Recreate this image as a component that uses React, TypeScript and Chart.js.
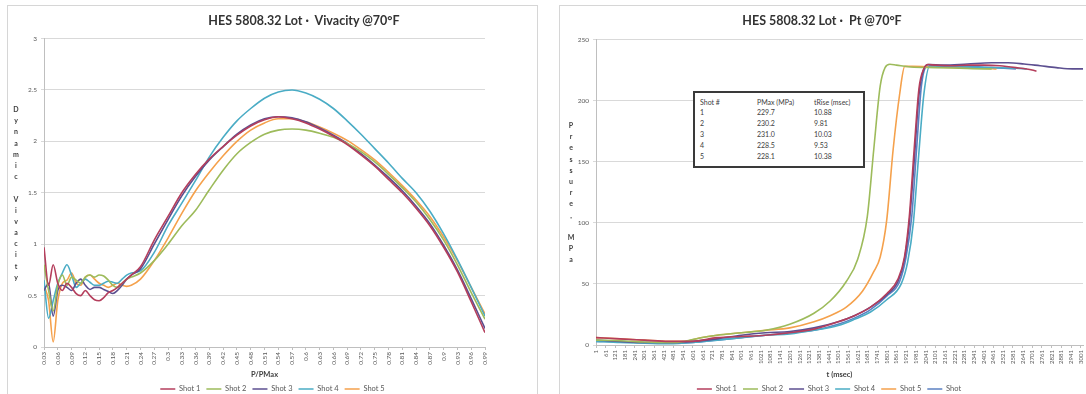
import React, { useEffect, useRef } from "react";
import { Chart, registerables } from "chart.js";

Chart.register(...registerables);
Chart.defaults.font.family = "Lato, 'Open Sans', sans-serif";

// ---------- shared ----------
const SHOT_NAMES = ["Shot 1", "Shot 2", "Shot 3", "Shot 4", "Shot 5"];
const PT_NAMES = ["Shot 1", "Shot 2", "Shot 3", "Shot 4", "Shot 5", "Shot"];
const COLORS = ["#b43e5c", "#9dbb5b", "#5c4f90", "#4aacc5", "#f5a14c", "#5b80c2"];

// ---------- Vivacity chart data ----------
const vivTitle = "HES 5808.32 Lot \u00b7  Vivacity @70\u00b0F";
const vivX = [0.03, 0.04, 0.05, 0.06, 0.07, 0.08, 0.09, 0.10, 0.11, 0.12, 0.13, 0.14, 0.15, 0.16, 0.17, 0.18, 0.19, 0.20, 0.21, 0.22, 0.24,
  0.27, 0.30, 0.33, 0.36, 0.39, 0.42, 0.45, 0.48, 0.51, 0.54, 0.57, 0.60, 0.63, 0.66, 0.69, 0.72, 0.75, 0.78, 0.81, 0.84, 0.87, 0.90, 0.93, 0.96, 0.99];
const viv1 = [0.97, 0.60, 0.80, 0.62, 0.55, 0.62, 0.58, 0.52, 0.50, 0.55, 0.50, 0.46, 0.45, 0.48, 0.53, 0.55, 0.58, 0.62, 0.66, 0.70, 0.78,
  1.04, 1.27, 1.50, 1.68, 1.83, 1.95, 2.06, 2.15, 2.21, 2.24, 2.22, 2.18, 2.12, 2.05, 1.97, 1.87, 1.76, 1.63, 1.50, 1.35, 1.18, 0.97, 0.73, 0.44, 0.14];
const viv2 = [0.80, 0.55, 0.35, 0.60, 0.70, 0.60, 0.68, 0.65, 0.62, 0.68, 0.70, 0.68, 0.70, 0.69, 0.65, 0.60, 0.58, 0.62, 0.66, 0.68, 0.72,
  0.84, 1.00, 1.18, 1.33, 1.53, 1.72, 1.88, 1.99, 2.07, 2.11, 2.12, 2.11, 2.08, 2.04, 1.98, 1.90, 1.80, 1.68, 1.55, 1.41, 1.24, 1.04, 0.80, 0.53, 0.27];
const viv3 = [0.55, 0.62, 0.30, 0.55, 0.60, 0.58, 0.55, 0.62, 0.66, 0.60, 0.56, 0.58, 0.58, 0.56, 0.54, 0.52, 0.55, 0.60, 0.66, 0.70, 0.76,
  1.00, 1.24, 1.47, 1.66, 1.82, 1.95, 2.07, 2.16, 2.22, 2.24, 2.23, 2.19, 2.13, 2.06, 1.98, 1.88, 1.77, 1.65, 1.52, 1.37, 1.20, 0.99, 0.75, 0.47, 0.18];
const viv4 = [0.65, 0.28, 0.45, 0.62, 0.72, 0.80, 0.70, 0.58, 0.62, 0.66, 0.63, 0.60, 0.60, 0.62, 0.64, 0.63, 0.62, 0.66, 0.70, 0.72, 0.74,
  0.92, 1.18, 1.40, 1.62, 1.85, 2.04, 2.20, 2.32, 2.42, 2.48, 2.50, 2.47, 2.41, 2.32, 2.20, 2.07, 1.93, 1.79, 1.64, 1.50, 1.32, 1.10, 0.85, 0.58, 0.30];
const viv5 = [0.60, 0.45, 0.05, 0.45, 0.62, 0.65, 0.72, 0.62, 0.60, 0.68, 0.70, 0.66, 0.62, 0.60, 0.58, 0.60, 0.62, 0.60, 0.59, 0.60, 0.66,
  0.84, 1.06, 1.30, 1.52, 1.70, 1.86, 2.00, 2.11, 2.18, 2.22, 2.22, 2.19, 2.14, 2.08, 2.01, 1.92, 1.82, 1.70, 1.57, 1.43, 1.27, 1.07, 0.84, 0.58, 0.32];
const vivSeries = [viv1, viv2, viv3, viv4, viv5];
const vivXTicks = ["0.03", "0.06", "0.09", "0.12", "0.15", "0.18", "0.21", "0.24", "0.27", "0.3", "0.33", "0.36", "0.39", "0.42", "0.45", "0.48",
  "0.51", "0.54", "0.57", "0.6", "0.63", "0.66", "0.69", "0.72", "0.75", "0.78", "0.81", "0.84", "0.87", "0.9", "0.93", "0.96", "0.99"];
const vivYTicks = [0, 0.5, 1, 1.5, 2, 2.5, 3];
const vivXTitle = "P/PMax";
const vivYTitle = "Dynamic Vivacity";

// ---------- Pt chart data ----------
const ptTitle = "HES 5808.32 Lot \u00b7  Pt @70\u00b0F";
const pt1T = [1, 150, 300, 450, 600, 750, 900, 1050, 1200, 1350, 1500, 1600, 1700, 1800, 1870, 1910, 1940, 1970, 2000, 2030, 2055, 2100, 2200, 2300, 2400, 2500, 2600, 2700, 2727];
const pt1P = [6, 5, 4, 3, 3, 6, 7, 8, 10, 13, 19, 24, 31, 42, 54, 72, 105, 160, 210, 226, 229.5, 229, 228.5, 229, 229, 228.5, 227, 225, 224];
const pt2T = [1, 150, 300, 450, 550, 650, 750, 900, 1050, 1200, 1350, 1450, 1550, 1620, 1680, 1720, 1760, 1790, 1820, 1860, 1950, 2100, 2250, 2400, 2450];
const pt2P = [4, 3.5, 2.5, 2, 3, 6, 8, 10, 12, 17, 26, 36, 52, 70, 105, 160, 212, 227, 229.7, 229, 227.5, 227, 226.5, 226, 226];
const pt3T = [1, 150, 300, 450, 600, 750, 900, 1050, 1200, 1350, 1500, 1600, 1700, 1800, 1870, 1910, 1940, 1970, 2000, 2030, 2060, 2150, 2300, 2450, 2550, 2650, 2750, 2850, 2950, 3015];
const pt3P = [4, 3, 2, 2, 3, 5, 8, 10, 11, 14, 19, 24, 31, 41, 52, 70, 100, 150, 205, 226, 229.5, 229, 230, 231, 231, 230, 228.5, 227, 226, 226];
const pt4T = [1, 150, 300, 450, 600, 750, 900, 1050, 1200, 1350, 1500, 1600, 1700, 1800, 1890, 1930, 1965, 1995, 2030, 2067, 2150, 2300, 2450, 2600, 2667];
const pt4P = [3, 2, 1.5, 1, 2, 4, 6, 8, 9, 12, 16, 21, 27, 37, 50, 68, 100, 150, 205, 228.5, 228, 227.5, 227, 226.5, 226];
const pt5T = [1, 150, 300, 450, 550, 650, 750, 900, 1050, 1200, 1350, 1450, 1550, 1650, 1720, 1760, 1800, 1840, 1880, 1912, 1960, 2100, 2250, 2400, 2480];
const pt5P = [6, 5, 4, 3, 3, 6, 8, 10, 12, 14, 19, 24, 31, 44, 60, 72, 102, 160, 205, 228, 228, 227.5, 227, 226.5, 226];
const pt6T = [1, 150, 300, 450, 600, 750, 900, 1050, 1200, 1350, 1500, 1600, 1700, 1800, 1880, 1920, 1955, 1985, 2015, 2050, 2150, 2300, 2450, 2600];
const pt6P = [3, 2.5, 2, 1.5, 2, 4, 6, 8, 10, 12, 17, 22, 29, 40, 52, 72, 105, 160, 212, 228, 228.5, 228, 227, 226];
const ptSeriesT = [pt1T, pt2T, pt3T, pt4T, pt5T, pt6T];
const ptSeriesP = [pt1P, pt2P, pt3P, pt4P, pt5P, pt6P];
const ptXTicks = [1, 61, 121, 181, 241, 301, 361, 421, 481, 541, 601, 661, 721, 781, 841, 901, 961, 1021, 1081, 1141, 1201, 1261, 1321, 1381,
  1441, 1501, 1561, 1621, 1681, 1741, 1801, 1861, 1921, 1981, 2041, 2101, 2161, 2221, 2281, 2341, 2401, 2461, 2521, 2581, 2641, 2701, 2761,
  2821, 2881, 2941, 3001];
const ptYTicks = [0, 50, 100, 150, 200, 250];
const ptXTitle = "t (msec)";
const ptYTitle = "Pressure, MPa";

// summary table
const tableHeader = ["Shot #", "PMax (MPa)", "tRise (msec)"];
const tableShot = ["1", "2", "3", "4", "5"];
const tablePMax = ["229.7", "230.2", "231.0", "228.5", "228.1"];
const tableTRise = ["10.88", "9.81", "10.03", "9.53", "10.38"];

// ---------- helpers ----------
const TICK_COLOR = "#595959";
const GRID_COLOR = "#d9d9d9";
const AXIS_COLOR = "#bfbfbf";

function legendOpts() {
  return {
    position: "bottom" as const,
    labels: {
      usePointStyle: true,
      pointStyle: "line",
      pointStyleWidth: 15,
      font: { size: 7.5 },
      color: TICK_COLOR,
      padding: 6,
    },
  };
}

function spacerAxis(w: number) {
  return {
    position: "right" as const,
    display: true,
    afterFit: (s: any) => { s.width = w; },
    grid: { display: false },
    ticks: { display: false },
    border: { display: false },
  };
}

function ChartCanvas({ config, left, top, width, height }: any) {
  const ref = useRef<HTMLCanvasElement | null>(null);
  useEffect(() => {
    if (!ref.current) return;
    const chart = new Chart(ref.current, config);
    return () => chart.destroy();
  }, []);
  return (
    <canvas
      ref={ref}
      width={width}
      height={height}
      style={{ position: "absolute", left, top, width, height }}
    />
  );
}

function StackedTitle({ text, left, top }: any) {
  return (
    <div style={{ position: "absolute", left, top, width: 10, fontFamily: "Lato, sans-serif", fontWeight: 700, fontSize: 7, color: "#404040", textAlign: "center" }}>
      {text.split("").map((c: string, i: number) => (
        <div key={i} style={{ height: 11.2, lineHeight: "11.2px" }}>{c === " " ? "\u00a0" : c}</div>
      ))}
    </div>
  );
}

const vivConfig: any = {
  type: "line",
  data: {
    datasets: SHOT_NAMES.map((name, i) => ({
      label: name,
      data: vivX.map((x, j) => ({ x, y: vivSeries[i][j] })),
      borderColor: COLORS[i],
      backgroundColor: COLORS[i],
      borderWidth: 1.6,
      pointRadius: 0,
      cubicInterpolationMode: "monotone",
      fill: false,
    })),
  },
  options: {
    responsive: false,
    animation: false,
    layout: { padding: { top: 33.6, right: 0, left: 0, bottom: 2.25 } },
    plugins: { legend: legendOpts(), title: { display: false }, tooltip: { enabled: false } },
    scales: {
      x: {
        type: "linear",
        min: 0.03,
        max: 0.99,
        afterBuildTicks: (s: any) => { s.ticks = vivXTicks.map((v) => ({ value: parseFloat(v) })); },
        afterFit: (s: any) => { s.height = 32.25; },
        ticks: { autoSkip: false, minRotation: 90, maxRotation: 90, font: { size: 6.5 }, color: TICK_COLOR, padding: 2,
          callback: (_v: any, i: number) => vivXTicks[i] },
        grid: { display: true, drawOnChartArea: false, drawTicks: true, tickLength: 3, color: AXIS_COLOR },
        border: { display: true, color: AXIS_COLOR },
        title: { display: true, text: vivXTitle, font: { size: 7.5, weight: "bold" }, color: "#404040", padding: { top: 0, bottom: 0 } },
      },
      y: {
        min: 0,
        max: 3,
        afterBuildTicks: (s: any) => { s.ticks = vivYTicks.map((v) => ({ value: v })); },
        afterFit: (s: any) => { s.width = 37; },
        ticks: { font: { size: 6.5 }, color: TICK_COLOR, padding: 4, callback: (v: any) => String(v) },
        grid: { color: GRID_COLOR, tickLength: 3 },
        border: { display: true, color: AXIS_COLOR },
      },
      pad: spacerAxis(53),
    },
  },
};

const ptConfig: any = {
  type: "line",
  data: {
    datasets: PT_NAMES.map((name, i) => ({
      label: name,
      data: ptSeriesT[i].map((x, j) => ({ x, y: ptSeriesP[i][j] })),
      borderColor: COLORS[i],
      backgroundColor: COLORS[i],
      borderWidth: 1.6,
      pointRadius: 0,
      cubicInterpolationMode: "monotone",
      fill: false,
    })),
  },
  options: {
    responsive: false,
    animation: false,
    layout: { padding: { top: 34.5, right: 0, left: 0, bottom: 2.25 } },
    plugins: { legend: legendOpts(), title: { display: false }, tooltip: { enabled: false } },
    scales: {
      x: {
        type: "linear",
        min: 1,
        max: 3015,
        afterBuildTicks: (s: any) => { s.ticks = ptXTicks.map((v) => ({ value: v })); },
        afterFit: (s: any) => { s.height = 34.25; },
        ticks: { autoSkip: false, minRotation: 90, maxRotation: 90, font: { size: 6 }, color: TICK_COLOR, padding: 2,
          callback: (v: any) => String(v) },
        grid: { display: true, drawOnChartArea: false, drawTicks: true, tickLength: 3, color: AXIS_COLOR },
        border: { display: true, color: AXIS_COLOR },
        title: { display: true, text: ptXTitle, font: { size: 7.5, weight: "bold" }, color: "#404040", padding: { top: 0, bottom: 0 } },
      },
      y: {
        min: 0,
        max: 250,
        afterBuildTicks: (s: any) => { s.ticks = ptYTicks.map((v) => ({ value: v })); },
        afterFit: (s: any) => { s.width = 37; },
        ticks: { font: { size: 6.5 }, color: TICK_COLOR, padding: 4, callback: (v: any) => String(v) },
        grid: { color: GRID_COLOR, tickLength: 3 },
        border: { display: true, color: AXIS_COLOR },
      },
      pad: spacerAxis(16),
    },
  },
};

const titleStyle: any = {
  position: "absolute",
  top: 12.5,
  fontFamily: "Lato, sans-serif",
  fontWeight: 700,
  fontSize: 12.5,
  color: "#333",
  whiteSpace: "pre",
  transform: "translateX(-50%)",
};

export default function App() {
  const cell: any = { position: "absolute", whiteSpace: "nowrap" };
  const colX = [5, 62, 119];
  return (
    <div style={{ position: "fixed", left: 0, top: 0, width: 1086, height: 394, overflow: "hidden", background: "#fff" }}>
      {/* panels */}
      <div style={{ position: "absolute", left: 7, top: 5, width: 531, height: 400, border: "1px solid #d6d6d6", boxSizing: "border-box", background: "#fff" }} />
      <div style={{ position: "absolute", left: 559, top: 5, width: 540, height: 400, border: "1px solid #d6d6d6", boxSizing: "border-box", background: "#fff" }} />

      <ChartCanvas config={vivConfig} left={7} top={5} width={531} height={400} />
      <ChartCanvas config={ptConfig} left={559} top={5} width={540} height={400} />

      <div style={{ ...titleStyle, left: 304 }}>{vivTitle}</div>
      <div style={{ ...titleStyle, left: 822 }}>{ptTitle}</div>

      <StackedTitle text={vivYTitle} left={11} top={104} />
      <StackedTitle text={ptYTitle} left={566} top={120} />

      {/* summary table */}
      <div style={{ position: "absolute", left: 693, top: 91, width: 172, height: 77, border: "2px solid #3a3a3a", boxSizing: "border-box", background: "#fff",
        fontFamily: "Lato, sans-serif", fontSize: 7, color: "#404040" }}>
        {[tableHeader, ...tableShot.map((s, i) => [s, tablePMax[i], tableTRise[i]])].map((row, r) => (
          <React.Fragment key={r}>
            {row.map((t, c) => (
              <div key={c} style={{ ...cell, left: colX[c], top: 3.5 + r * 10.9, lineHeight: "10px" }}>{t}</div>
            ))}
          </React.Fragment>
        ))}
      </div>
    </div>
  );
}
